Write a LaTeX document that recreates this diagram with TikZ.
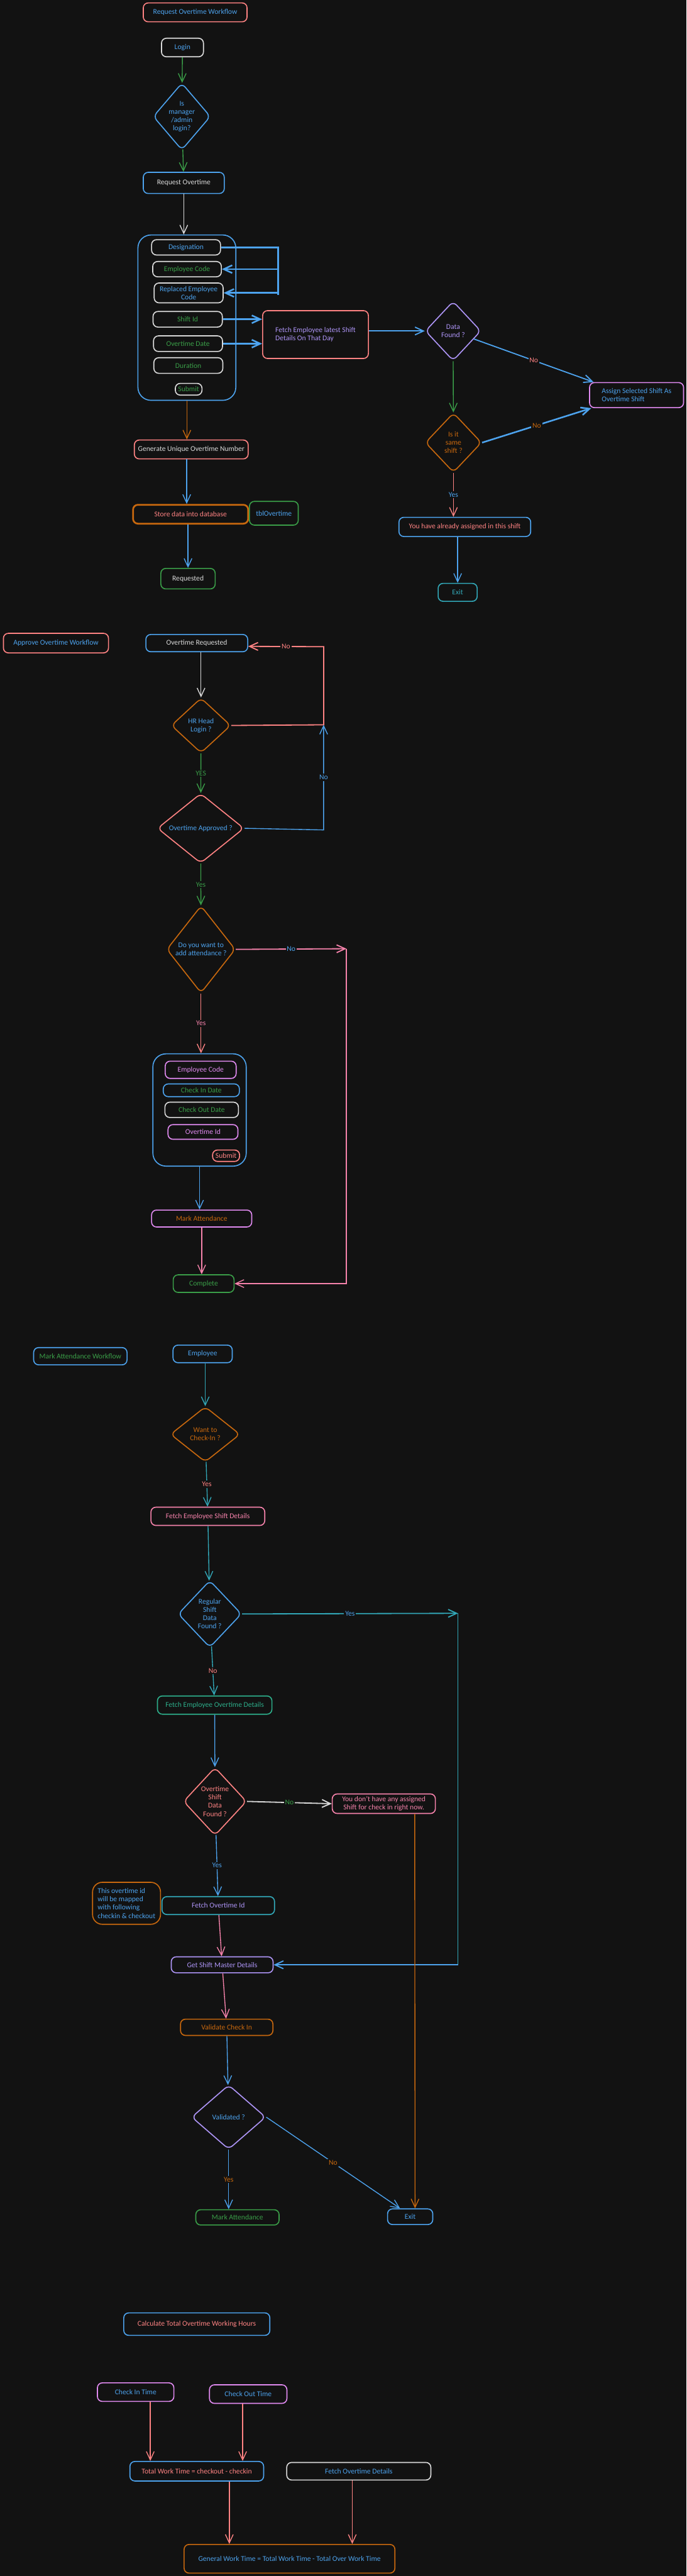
\documentclass[tikz,border=0pt]{standalone}
\usepackage{fontspec}
\setmainfont{Carlito}
\usetikzlibrary{positioning,shapes.geometric,arrows.meta}
\definecolor{bgC}{HTML}{121212}
\definecolor{blueC}{HTML}{4DA3EE}
\definecolor{redC}{HTML}{FF8383}
\definecolor{greenC}{HTML}{3A9E48}
\definecolor{orangeC}{HTML}{C8680E}
\definecolor{greyC}{HTML}{DADADA}
\definecolor{purpleC}{HTML}{AE95F7}
\definecolor{magentaC}{HTML}{E08AF0}
\definecolor{pinkC}{HTML}{F783AC}
\definecolor{tealC}{HTML}{32A8B8}
\definecolor{mintC}{HTML}{2DAE8A}
\newcommand{\sketchfont}{\fontsize{6.4}{7.2}\selectfont}
\tikzset{
  box/.style={draw, rounded corners=1.5mm, line width=0.9pt, align=center, font=\sketchfont, inner sep=2pt},
  panel/.style={draw, rounded corners=4mm, line width=0.9pt},
  dec/.style={draw, diamond, rounded corners=1.5mm, line width=0.9pt, align=center, font=\sketchfont, inner sep=0pt},
  sz/.style 2 args={minimum width=#1cm, minimum height=#2cm},
  flow/.style={-{Straight Barb[length=2.6mm,width=2.4mm]}, line width=0.75pt},
  bus/.style={line width=1.4pt},
  lbl/.style={font=\sketchfont, fill=bgC, inner sep=1pt},
}

\begin{document}
\begin{tikzpicture}
\fill[bgC] (0,0) rectangle (21.11,-79.15);
\useasboundingbox (0,0) rectangle (21.11,-79.15);

\node[box, draw=redC, text=blueC, sz={3.19}{0.58}] (title) at (6.00,-0.38) {Request Overtime Workflow};
\node[box, draw=greyC, text=blueC, sz={1.29}{0.57}] (login) at (5.61,-1.46) {Login};
\node[dec, draw=blueC, text=blueC, sz={1.76}{2.06}] (isadmin) at (5.59,-3.58) {Is\\manager\\/admin\\login?};
\node[box, draw=blueC, text=greyC, sz={2.49}{0.65}] (reqot) at (5.65,-5.62) {Request Overtime};
\node[panel, draw=blueC, sz={3.01}{5.08}] (form) at (5.745,-9.76) {};
\node[box, draw=greyC, text=blueC, sz={2.12}{0.47}] (desig) at (5.72,-7.60) {Designation};
\node[box, draw=greyC, text=greenC, sz={2.11}{0.47}] (empcode) at (5.75,-8.27) {Employee Code};
\node[box, draw=greyC, text=blueC, sz={2.12}{0.61}] (repcode) at (5.80,-9.00) {Replaced Employee\\Code};
\node[box, draw=greyC, text=greenC, sz={2.13}{0.48}] (shiftid) at (5.77,-9.81) {Shift Id};
\node[box, draw=greyC, text=greenC, sz={2.12}{0.48}] (otdate) at (5.78,-10.56) {Overtime Date};
\node[box, draw=greyC, text=greenC, sz={2.12}{0.48}] (duration) at (5.79,-11.23) {Duration};
\node[box, draw=greyC, text=greenC, sz={0.82}{0.36}] (submit) at (5.80,-11.96) {Submit};
\node[box, draw=redC, text=purpleC, align=left, sz={3.25}{1.47}] (fetchlast) at (9.70,-10.28) {Fetch Employee latest Shift\\Details On That Day};
\node[dec, draw=purpleC, text=purpleC, sz={1.71}{1.83}] (datafound) at (13.93,-10.17) {Data\\Found ?};
\node[dec, draw=orangeC, text=orangeC, sz={1.73}{1.83}] (sameshift) at (13.94,-13.60) {Is it\\same\\shift ?};
\node[box, draw=magentaC, text=blueC, align=left, sz={2.89}{0.77}] (assign) at (19.57,-12.14) {Assign Selected Shift As\\Overtime Shift};
\node[box, draw=blueC, text=redC, sz={4.05}{0.59}] (already) at (14.29,-16.19) {You have already assigned in this shift};
\node[box, draw=tealC, text=tealC, sz={1.20}{0.55}] (exitone) at (14.07,-18.20) {Exit};
\node[box, draw=redC, text=greyC, sz={3.50}{0.58}] (gennum) at (5.88,-13.81) {Generate Unique Overtime Number};
\node[box, draw=orangeC, text=redC, line width=1.5pt, sz={3.54}{0.58}] (store) at (5.86,-15.80) {Store data into database};
\node[box, draw=greenC, text=blueC, sz={1.50}{0.73}] (tbl) at (8.42,-15.77) {tblOvertime};
\node[box, draw=greenC, text=greyC, sz={1.67}{0.63}] (requested) at (5.78,-17.78) {Requested};

\draw[flow, greenC] (login) -- (isadmin);
\draw[flow, greenC] (isadmin) -- (reqot);
\draw[flow, greyC] (reqot.south) -- (reqot.south |- form.north);
\coordinate (bustop) at (8.55,-7.60);
\coordinate (busend) at (8.55,-9.07);
\draw[bus, blueC] (desig.east) -- (bustop) -- (busend);
\draw[flow, bus, blueC] (bustop |- empcode.east) -- (empcode.east);
\draw[flow, bus, blueC] (bustop |- repcode.east) -- (repcode.east);
\draw[flow, bus, blueC] (shiftid.east) -- (shiftid.east -| fetchlast.west);
\draw[flow, bus, blueC] (otdate.east) -- (otdate.east -| fetchlast.west);
\draw[flow, blueC, line width=1pt] (datafound.west -| fetchlast.east) -- (datafound.west);
\draw[flow, greenC] (datafound) -- (sameshift);
\draw[flow, blueC, line width=1pt] (datafound.-21) -- node[lbl, text=redC] {No} ([xshift=1.4mm]assign.north west);
\draw[flow, bus, blueC] (sameshift.east) -- node[lbl, text=orangeC] {No} ([xshift=0.7mm]assign.south west);
\draw[flow, redC] (sameshift.south) -- node[lbl, text=blueC] {Yes} (sameshift.south |- already.north);
\draw[flow, blueC] (exitone.north |- already.south) -- (exitone.north);
\draw[flow, orangeC] (form.south) -- (form.south |- gennum.north);
\draw[flow, blueC] ([xshift=-1.4mm]gennum.south) -- ([xshift=-1.4mm]gennum.south |- store.north);
\draw[flow, blueC] (store.south -| requested.north) -- (requested.north);

\node[box, draw=redC, text=blueC, sz={3.23}{0.60}] (approve) at (1.72,-19.76) {Approve Overtime Workflow};
\node[box, draw=blueC, text=greyC, sz={3.13}{0.53}] (otreq) at (6.05,-19.76) {Overtime Requested};
\node[dec, draw=orangeC, text=blueC, sz={1.83}{1.69}] (hrhead) at (6.18,-22.29) {HR Head\\Login ?};
\node[dec, draw=redC, text=blueC, sz={2.66}{2.03}] (otappr) at (6.17,-25.45) {Overtime Approved ?};
\node[dec, draw=orangeC, text=blueC, sz={2.11}{2.68}] (addatt) at (6.18,-29.17) {Do you want to\\add attendance ?};
\node[panel, draw=blueC, sz={2.87}{3.45}] (formtwo) at (6.135,-34.105) {};
\node[box, draw=magentaC, text=magentaC, sz={2.18}{0.53}] (empcodetwo) at (6.17,-32.87) {Employee Code};
\node[box, draw=blueC, text=greenC, sz={2.34}{0.39}] (cindate) at (6.19,-33.50) {Check In Date};
\node[box, draw=greyC, text=greenC, sz={2.26}{0.47}] (coutdate) at (6.20,-34.10) {Check Out Date};
\node[box, draw=magentaC, text=magentaC, sz={2.15}{0.45}] (otid) at (6.24,-34.78) {Overtime Id};
\node[box, draw=redC, text=redC, sz={0.83}{0.35}] (submittwo) at (6.95,-35.51) {Submit};
\node[box, draw=magentaC, text=orangeC, sz={3.08}{0.52}] (markatt) at (6.20,-37.44) {Mark Attendance};
\node[box, draw=greenC, text=greenC, sz={1.87}{0.54}] (complete) at (6.26,-39.44) {Complete};

\coordinate (loopa) at (9.95,-22.27);
\coordinate (loopb) at (9.95,-19.87);
\coordinate (loopc) at (9.95,-25.50);
\coordinate (skip) at (10.65,-29.15);
\draw[flow, greyC] (hrhead.north |- otreq.south) -- (hrhead.north);
\draw[flow, redC, line width=1pt] (hrhead.east) -- (loopa) -- (loopb) -- node[lbl, text=redC] {No} ([yshift=-1mm]otreq.east);
\draw[flow, greenC] (hrhead) -- node[lbl, text=greenC] {YES} (otappr);
\draw[flow, blueC] (otappr.east) -- (loopc) -- node[lbl, text=blueC] {No} (loopa);
\draw[flow, greenC] (otappr) -- node[lbl, text=greenC] {Yes} (addatt);
\draw[flow, pinkC, line width=1pt] (addatt.east) -- node[lbl, text=blueC] {No} (skip);
\draw[flow, pinkC] (skip) |- (complete.east);
\draw[flow, redC] (addatt.south) -- node[lbl, text=pinkC] {Yes} (addatt.south |- formtwo.north);
\draw[flow, blueC] (formtwo.south) -- (formtwo.south |- markatt.north);
\draw[flow, pinkC] (markatt.south) -- (markatt.south |- complete.north);

\node[box, draw=blueC, text=greenC, sz={2.87}{0.53}] (markwf) at (2.47,-41.67) {Mark Attendance Workflow};
\node[box, draw=blueC, text=blueC, sz={1.82}{0.54}] (emp) at (6.23,-41.60) {Employee};
\node[dec, draw=orangeC, text=orangeC, sz={2.14}{1.70}] (checkin) at (6.31,-44.07) {Want to\\Check-In ?};
\node[box, draw=pinkC, text=pinkC, sz={3.50}{0.56}] (fetchshift) at (6.39,-46.59) {Fetch Employee Shift Details};
\node[dec, draw=blueC, text=blueC, sz={1.95}{2.06}] (regular) at (6.45,-49.59) {Regular\\Shift\\Data\\Found ?};
\node[box, draw=mintC, text=mintC, sz={3.52}{0.56}] (fetchot) at (6.60,-52.39) {Fetch Employee Overtime Details};
\node[dec, draw=redC, text=redC, sz={1.94}{2.09}] (otfound) at (6.61,-55.35) {Overtime\\Shift\\Data\\Found ?};
\node[box, draw=pinkC, text=pinkC, sz={3.17}{0.60}] (noshift) at (11.80,-55.42) {You don't have any assigned\\Shift for check in right now.};
\node[box, draw=orangeC, text=blueC, align=left, rounded corners=3mm, sz={2.09}{1.29}] (memo) at (3.89,-58.48) {This overtime id\\will be mapped\\with following\\checkin \& checkout};
\node[box, draw=tealC, text=purpleC, sz={3.46}{0.55}] (fetchid) at (6.71,-58.55) {Fetch Overtime Id};
\node[box, draw=purpleC, text=purpleC, sz={3.13}{0.49}] (shiftmaster) at (6.83,-60.37) {Get Shift Master Details};
\node[box, draw=orangeC, text=orangeC, sz={2.84}{0.50}] (validate) at (6.97,-62.29) {Validate Check In};
\node[dec, draw=purpleC, text=blueC, sz={2.28}{1.98}] (validated) at (7.03,-65.05) {Validated ?};
\node[box, draw=greenC, text=greenC, sz={2.56}{0.47}] (markatttwo) at (7.30,-68.13) {Mark Attendance};
\node[box, draw=blueC, text=blueC, sz={1.39}{0.48}] (exittwo) at (12.61,-68.11) {Exit};

\coordinate (sidea) at (14.08,-49.57);
\coordinate (sideb) at (14.08,-60.37);
\draw[flow, tealC] (checkin.north |- emp.south) -- (checkin.north);
\draw[flow, tealC] (checkin) -- node[lbl, text=redC] {Yes} (fetchshift);
\draw[flow, tealC] (fetchshift) -- (regular);
\draw[flow, tealC, line width=1pt] (regular.east) -- node[lbl, text=blueC] {Yes} (sidea);
\draw[tealC, line width=0.75pt] (sidea) -- (sideb);
\draw[flow, blueC, line width=1pt] (sideb) -- (shiftmaster.east);
\draw[flow, tealC] (regular) -- node[lbl, text=redC] {No} (fetchot);
\draw[flow, blueC] (fetchot) -- (otfound);
\draw[flow, greyC, line width=1pt] (otfound.east) -- node[lbl, text=greenC] {No} (noshift.west);
\draw[flow, orangeC] ([xshift=0.95cm]noshift.south) -- ([xshift=0.15cm]exittwo.north);
\draw[flow, blueC] (otfound) -- node[lbl, text=blueC] {Yes} (fetchid);
\draw[flow, pinkC] (fetchid) -- (shiftmaster);
\draw[flow, pinkC] (shiftmaster) -- (validate);
\draw[flow, blueC] (validate) -- (validated);
\draw[flow, blueC] (validated.south) -- node[lbl, text=orangeC] {Yes} (validated.south |- markatttwo.north);
\draw[flow, blueC] (validated.east) -- node[lbl, text=orangeC] {No} ([xshift=4mm]exittwo.north west);

\node[box, draw=blueC, text=redC, sz={4.49}{0.69}] (calc) at (6.05,-71.41) {Calculate Total Overtime Working Hours};
\node[box, draw=magentaC, text=blueC, sz={2.35}{0.57}] (intime) at (4.17,-73.50) {Check In Time};
\node[box, draw=magentaC, text=blueC, sz={2.38}{0.57}] (outtime) at (7.63,-73.56) {Check Out Time};
\node[box, draw=blueC, text=redC, sz={4.11}{0.60}] (total) at (6.05,-75.93) {Total Work Time = checkout - checkin};
\node[box, draw=greyC, text=blueC, sz={4.43}{0.54}] (fetchdet) at (11.03,-75.93) {Fetch Overtime Details};
\node[box, draw=orangeC, text=blueC, sz={6.48}{0.88}] (general) at (8.90,-78.62) {General Work Time = Total Work Time - Total Over Work Time};

\draw[flow, redC] ([xshift=4.5mm]intime.south) -- ([xshift=4.5mm]intime.south |- total.north);
\draw[flow, redC] ([xshift=-1.7mm]outtime.south) -- ([xshift=-1.7mm]outtime.south |- total.north);
\draw[flow, redC] ([xshift=1cm]total.south) -- ([xshift=1cm]total.south |- general.north);
\draw[flow, redC] ([xshift=-2mm]fetchdet.south) -- ([xshift=-2mm]fetchdet.south |- general.north);
\end{tikzpicture}
\end{document}
